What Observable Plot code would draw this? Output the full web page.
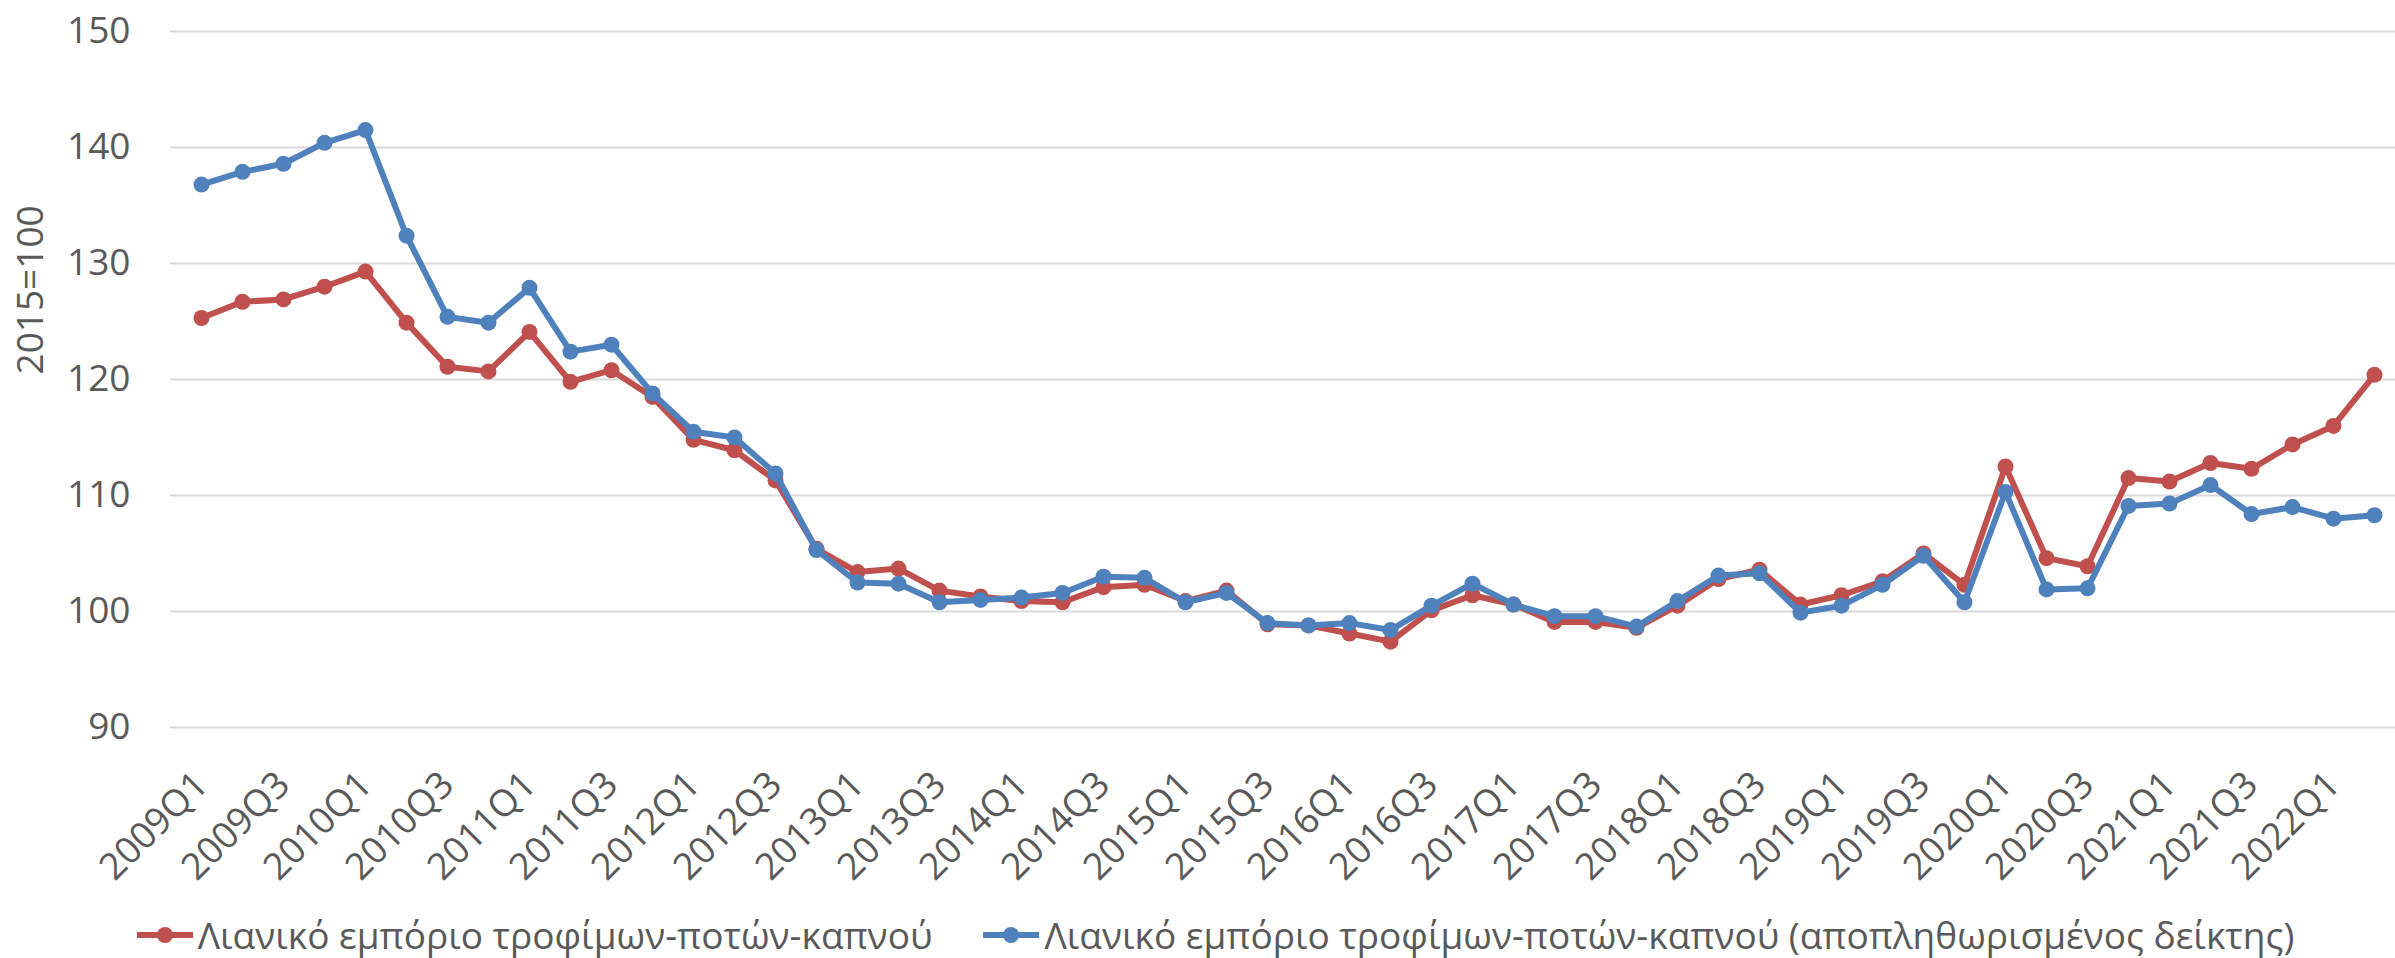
<!DOCTYPE html>
<html><head><meta charset="utf-8">
<script src="https://cdn.jsdelivr.net/npm/d3@7"></script>
<script src="https://cdn.jsdelivr.net/npm/@observablehq/plot@0.6"></script>
<style>
html,body{margin:0;padding:0;background:#fff;}
body{width:2395px;height:958px;overflow:hidden;font-family:"Open Sans",sans-serif;}
#chart svg{display:block;}
#legend{height:46px;line-height:46px;display:flex;justify-content:center;align-items:center;font-size:37px;color:#595959;white-space:nowrap;padding-left:36px;}
.item{display:flex;align-items:center;}
.item svg{display:block;margin-right:5px;}
.item + .item{margin-left:51px;}
</style></head><body>
<div id="chart"></div>
<div id="legend"></div>
<script>
const quarters = ["2009Q1","2009Q2","2009Q3","2009Q4","2010Q1","2010Q2","2010Q3","2010Q4",
"2011Q1","2011Q2","2011Q3","2011Q4","2012Q1","2012Q2","2012Q3","2012Q4",
"2013Q1","2013Q2","2013Q3","2013Q4","2014Q1","2014Q2","2014Q3","2014Q4",
"2015Q1","2015Q2","2015Q3","2015Q4","2016Q1","2016Q2","2016Q3","2016Q4",
"2017Q1","2017Q2","2017Q3","2017Q4","2018Q1","2018Q2","2018Q3","2018Q4",
"2019Q1","2019Q2","2019Q3","2019Q4","2020Q1","2020Q2","2020Q3","2020Q4",
"2021Q1","2021Q2","2021Q3","2021Q4","2022Q1","2022Q2"];
const nominal = [125.3,126.7,126.9,128.0,129.3,124.9,121.1,120.7,
124.1,119.8,120.8,118.5,114.8,113.9,111.3,105.4,
103.4,103.7,101.8,101.3,100.9,100.8,102.1,102.3,
100.9,101.8,98.9,98.8,98.1,97.4,100.1,101.4,
100.6,99.1,99.1,98.6,100.5,102.8,103.6,100.6,
101.4,102.6,105.0,102.3,112.5,104.6,103.9,111.5,
111.2,112.8,112.3,114.4,116.0,120.4];
const deflated = [136.8,137.9,138.6,140.4,141.5,132.4,125.4,124.9,
127.9,122.4,123.0,118.8,115.5,115.0,111.9,105.3,
102.5,102.4,100.8,101.0,101.2,101.6,103.0,102.9,
100.8,101.6,99.0,98.8,99.0,98.4,100.5,102.4,
100.6,99.6,99.6,98.7,100.9,103.1,103.3,99.9,
100.5,102.3,104.8,100.8,110.3,101.9,102.0,109.1,
109.3,110.9,108.4,109.0,108.0,108.3];
const seriesNames = ["Λιανικό εμπόριο τροφίμων-ποτών-καπνού","Λιανικό εμπόριο τροφίμων-ποτών-καπνού (αποπληθωρισμένος δείκτης)"];
const seriesColors = ["#C0504D","#4F81BD"];
const yTicks = [90,100,110,120,130,140,150];
const xTickLabels = quarters.filter((q,i)=>i%2===0);
const yTitle = "2015=100";

const redData = quarters.map((q,i)=>({q, v:nominal[i]}));
const blueData = quarters.map((q,i)=>({q, v:deflated[i]}));

const chart = Plot.plot({
  width:2395, height:912,
  marginLeft:170, marginRight:0, marginTop:31, marginBottom:185,
  style:{fontFamily:"'Open Sans', sans-serif", fontSize:"37px", color:"#595959", background:"#fff", overflow:"visible"},
  x:{type:"point", domain:quarters, padding:0, insetLeft:19, insetRight:9},
  y:{domain:[90,150]},
  marks:[
    Plot.ruleY(yTicks,{stroke:"#d9d9d9", strokeWidth:2}),
    Plot.axisY({ticks:yTicks, tickSize:0, tickPadding:40, label:null, fontSize:37, fill:"#595959"}),
    Plot.axisX({ticks:xTickLabels, tickSize:0, tickRotate:-45, tickPadding:51, label:null, fontSize:37, fill:"#595959"}),
    Plot.text([yTitle], {text:d=>d, frameAnchor:"left", dx:-139, dy:-5, rotate:-90, fontSize:37, fill:"#595959"}),
    Plot.line(redData, {x:"q", y:"v", stroke:seriesColors[0], strokeWidth:6}),
    Plot.dot(redData, {x:"q", y:"v", r:8, fill:seriesColors[0]}),
    Plot.line(blueData, {x:"q", y:"v", stroke:seriesColors[1], strokeWidth:6}),
    Plot.dot(blueData, {x:"q", y:"v", r:8, fill:seriesColors[1]})
  ]
});
document.getElementById("chart").appendChild(chart);

const legend = document.getElementById("legend");
seriesNames.forEach((name,i)=>{
  const item = document.createElement("div");
  item.className = "item";
  item.innerHTML = `<svg width="56" height="20"><line x1="0" y1="10" x2="56" y2="10" stroke="${seriesColors[i]}" stroke-width="6"/><circle cx="28" cy="10" r="8" fill="${seriesColors[i]}"/></svg>`;
  const span = document.createElement("span");
  span.textContent = name;
  item.appendChild(span);
  legend.appendChild(item);
});
</script>
</body></html>
